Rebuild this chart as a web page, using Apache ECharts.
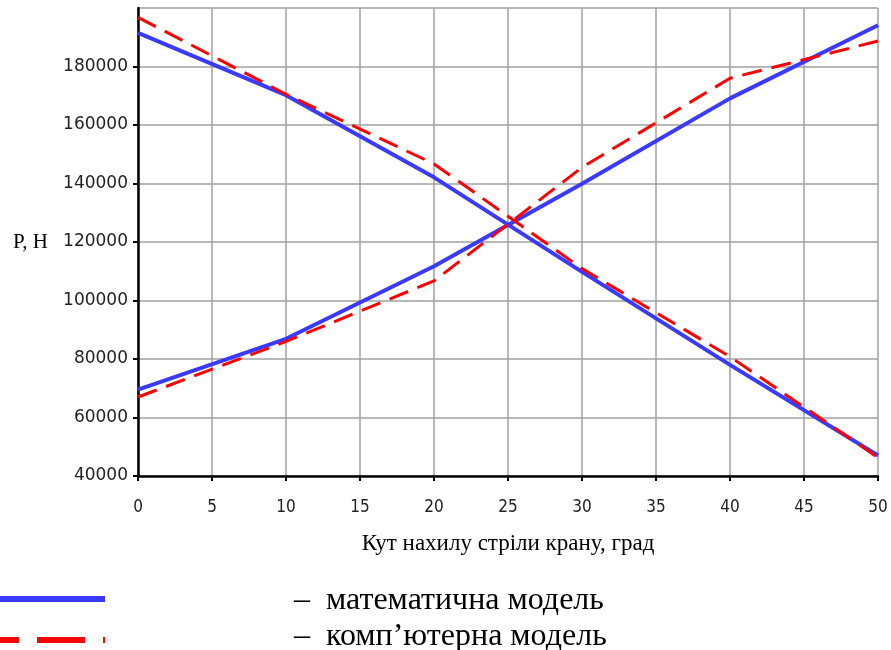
<!DOCTYPE html>
<html lang="uk">
<head>
<meta charset="UTF-8">
<title>P від кута нахилу</title>
<script src="https://cdn.jsdelivr.net/npm/echarts@6.0.0/dist/echarts.min.js"></script>
<style>
  html, body { margin: 0; padding: 0; background: #fff; }
  #chart { width: 891px; height: 650px; }
</style>
</head>
<body>
<div id="chart"></div>
<script>
// кут нахилу стріли, град
const angles = [0, 10, 20, 30, 40, 50];

// математична модель (спадна та зростаюча гілки)
const mathDown = [191500, 170200, 142100, 109800, 78000, 47000];
const mathUp = [69500, 86900, 111700, 139900, 169100, 194100];

// комп'ютерна модель
const compDown = [196800, 170500, 146700, 110900, 80800, 46300];
const compUp = [67000, 86000, 106700, 145500, 176000, 188700];

const legendNames = ['–  математична модель', '–  комп’ютерна модель'];

const pairs = ys => angles.map((a, i) => [a, ys[i]]);

const chart = echarts.init(document.getElementById('chart'));

const blueLine = { color: '#3a3aff', width: 4 };
const redLine = { color: '#ff0000', width: 3, type: [20, 10] };

chart.setOption({
  animation: false,
  grid: { left: 138, right: 13, top: 8, bottom: 174 },
  xAxis: {
    type: 'value',
    min: 0, max: 50, interval: 5,
    name: 'Кут нахилу стріли крану, град',
    nameLocation: 'middle',
    nameGap: 56,
    nameTextStyle: { fontFamily: 'Liberation Serif', fontSize: 23, color: '#000' },
    axisLine: { lineStyle: { color: '#000', width: 2.5 } },
    axisTick: { length: 5, lineStyle: { color: '#000', width: 2 } },
    axisLabel: { margin: 23, fontFamily: 'DejaVu Sans Condensed', fontSize: 17, color: '#222' },
    splitLine: { lineStyle: { color: '#a0a0a0', width: 1.5 } }
  },
  yAxis: {
    type: 'value',
    min: 40000, max: 200000, interval: 20000,
    name: 'P, H',
    nameLocation: 'middle',
    nameRotate: 0,
    nameGap: 90,
    nameTextStyle: { fontFamily: 'Liberation Serif', fontSize: 21, color: '#000', align: 'right' },
    axisLine: { show: true, lineStyle: { color: '#000', width: 2.5 } },
    axisTick: { show: true, length: 5, lineStyle: { color: '#000', width: 2 } },
    axisLabel: {
      margin: 10, showMaxLabel: false,
      fontFamily: 'DejaVu Sans', fontSize: 17, color: '#222',
      formatter: v => String(v)
    },
    splitLine: { lineStyle: { color: '#a0a0a0', width: 1.5 } }
  },
  series: [
    { name: legendNames[1], type: 'line', symbol: 'none', data: pairs(compDown), lineStyle: redLine, z: 3 },
    { name: legendNames[1], type: 'line', symbol: 'none', data: pairs(compUp), lineStyle: redLine, z: 3 },
    { name: legendNames[0], type: 'line', symbol: 'none', data: pairs(mathDown), lineStyle: blueLine, z: 2 },
    { name: legendNames[0], type: 'line', symbol: 'none', data: pairs(mathUp), lineStyle: blueLine, z: 2 }
  ],
  graphic: [
    { type: 'line', shape: { x1: 0, y1: 599, x2: 105, y2: 599 }, style: { stroke: '#3a3aff', lineWidth: 6 } },
    { type: 'line', shape: { x1: -29, y1: 640, x2: 105, y2: 640 }, style: { stroke: '#ff0000', lineWidth: 6, lineDash: [48, 18] } },
    { type: 'text', left: 294, top: 585, style: { text: legendNames[0], font: '32px "Liberation Serif"', fill: '#000' } },
    { type: 'text', left: 294, top: 621, style: { text: legendNames[1], font: '32px "Liberation Serif"', fill: '#000' } }
  ]
});
</script>
</body>
</html>
